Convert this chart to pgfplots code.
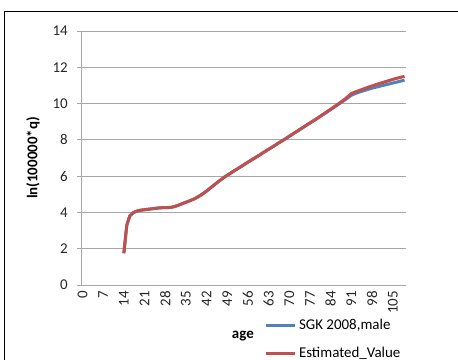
\documentclass[border=0pt]{standalone}
\usepackage{pgfplots}
\usepackage{pgfplotstable}
\pgfplotsset{compat=1.18}
\usepackage{fontspec}
\setmainfont{Carlito}
\definecolor{sgkblue}{HTML}{4F81BD}
\definecolor{estred}{HTML}{C0504D}
\definecolor{gridgray}{HTML}{A6A6A6}
\pgfplotstableread{
age sgk est
14 1.75 1.75
15 3.30 3.30
16 3.80 3.80
17 3.97 3.97
18 4.05 4.05
19 4.10 4.10
20 4.13 4.13
21 4.15 4.15
22 4.17 4.17
23 4.19 4.19
24 4.21 4.21
25 4.23 4.23
26 4.25 4.25
27 4.26 4.26
28 4.27 4.27
29 4.27 4.27
30 4.28 4.28
31 4.32 4.32
32 4.37 4.37
33 4.43 4.43
34 4.50 4.50
35 4.56 4.56
36 4.62 4.62
37 4.69 4.69
38 4.76 4.76
39 4.85 4.85
40 4.95 4.95
41 5.06 5.06
42 5.18 5.18
43 5.31 5.31
44 5.44 5.44
45 5.57 5.57
46 5.70 5.70
47 5.82 5.82
48 5.94 5.94
49 6.05 6.05
50 6.15 6.15
51 6.26 6.26
52 6.36 6.36
53 6.46 6.46
54 6.56 6.56
55 6.67 6.67
56 6.77 6.77
57 6.87 6.87
58 6.97 6.97
59 7.07 7.07
60 7.17 7.17
61 7.28 7.28
62 7.38 7.38
63 7.48 7.48
64 7.58 7.58
65 7.68 7.68
66 7.79 7.79
67 7.89 7.89
68 7.99 7.99
69 8.09 8.09
70 8.20 8.20
71 8.30 8.30
72 8.41 8.41
73 8.51 8.51
74 8.62 8.62
75 8.72 8.72
76 8.83 8.83
77 8.93 8.93
78 9.03 9.04
79 9.13 9.14
80 9.24 9.25
81 9.35 9.36
82 9.45 9.47
83 9.56 9.58
84 9.67 9.69
85 9.78 9.80
86 9.89 9.92
87 10.00 10.03
88 10.11 10.15
89 10.22 10.27
90 10.34 10.41
91 10.46 10.55
92 10.53 10.62
93 10.59 10.68
94 10.65 10.74
95 10.70 10.80
96 10.75 10.86
97 10.80 10.92
98 10.85 10.97
99 10.89 11.03
100 10.93 11.08
101 10.97 11.13
102 11.01 11.18
103 11.05 11.23
104 11.09 11.28
105 11.13 11.33
106 11.17 11.38
107 11.21 11.42
108 11.25 11.46
109 11.29 11.50
}\datatable
\begin{document}
\fontsize{15}{18}\selectfont
\begin{tikzpicture}[x=1bp,y=1bp]
\useasboundingbox (0,0) rectangle (458,359);
\draw[black, line width=1bp] (4,-5) -- (4,347) -- (470,347);
\begin{axis}[
  at={(81bp,74bp)}, anchor=south west,
  scale only axis, width=325bp, height=254bp,
  xmin=-0.5, xmax=109.5, ymin=0, ymax=14,
  xtick={0,7,...,105}, ytick={0,2,...,14},
  axis line style={gridgray, line width=0.8bp},
  axis x line*=bottom, axis y line*=left,
  ymajorgrids, grid style={gridgray, line width=0.8bp},
  major x tick style={draw=none},
  major y tick style={gridgray, line width=0.8bp},
  tick align=outside, major tick length=4bp,
  /pgf/number format/assume math mode=true,
  tick label style={font=\fontsize{15}{18}\selectfont, text=black!85},
  xticklabel style={rotate=90, anchor=east, inner sep=2bp},
  yticklabel style={inner sep=2bp, xshift=-7bp},
  ylabel={\textbf{ln(100000*q)}},
  ylabel style={at={(axis description cs:-0.148,0.5)}, anchor=center, rotate=0, font=\fontsize{15}{18}\selectfont},
  xlabel={\textbf{age}},
  xlabel style={at={(axis description cs:0.498,-0.2)}, anchor=center, font=\fontsize{15}{18}\selectfont},
  legend cell align=left,
  legend style={draw=none, fill=none, at={(axis description cs:0.565,-0.125)}, anchor=north west,
    font=\fontsize{15}{18}\selectfont, row sep=12bp, inner sep=0pt},
  legend image code/.code={\draw[#1, line width=3.2bp] (0bp,0bp) -- (29bp,0bp);},
  clip=false,
]
\addplot[sgkblue, line width=3bp] table[x=age, y=sgk] {\datatable};
\addlegendentry{SGK 2008,male}
\addplot[estred, line width=3bp] table[x=age, y=est] {\datatable};
\addlegendentry{Estimated\_Value}
\end{axis}
\end{tikzpicture}
\end{document}
